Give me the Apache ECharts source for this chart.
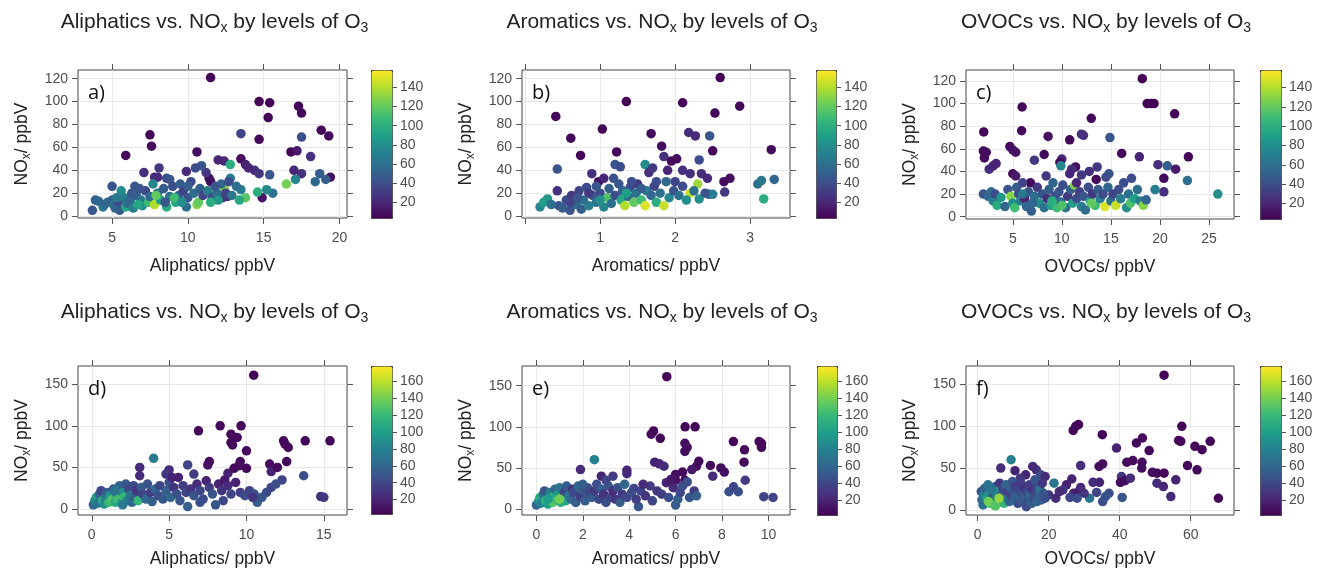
<!DOCTYPE html>
<html>
<head>
<meta charset="utf-8">
<script src="https://cdn.jsdelivr.net/npm/echarts@6/dist/echarts.min.js"></script>
<style>html,body{margin:0;padding:0;background:#fff}#main{width:1319px;height:569px}</style>
</head>
<body>
<div id="main"></div>
<script>
// each point: [VOC ppbV, NOx ppbV, O3 ppbV]
var pointsA = [[11.5,121,5],[14.7,100,5],[15.4,99,5],[15.3,86,5],[17.3,96,6],[17.5,90,6],[18.8,75,6],[19.3,70,8],[13.5,72,35],[17.5,69,42],[7.5,71,6],[7.6,61,8],[5.9,53,7],[14.7,67,6],[16.8,56,6],[17.2,57,15],[18.1,52,25],[10.6,56,10],[13.5,50,8],[12.4,48,22],[12.0,49,20],[13.8,45,18],[14.0,42,20],[14.4,40,22],[14.7,37,28],[15.4,36,45],[17.0,40,20],[17.5,37,25],[19.4,34,10],[19.1,32,50],[18.7,37,50],[18.4,30,55],[17.1,32,75],[16.5,28,125],[14.9,16,12],[15.6,20,62],[15.2,23,75],[14.6,21,100],[13.8,16,118],[13.5,23,70],[12.8,45,100],[12.8,33,70],[12.6,17,22],[12.3,16,28],[12.4,24,130],[11.5,30,8],[11.4,33,10],[11.2,38,30],[10.9,44,45],[10.5,42,40],[7.1,38,25],[7.8,34,25],[8.1,42,30],[8.0,34,22],[8.6,33,40],[8.8,32,45],[9.9,39,22],[6.5,26,45],[5.0,26,45],
  [3.7,5,45],[3.9,14,50],[4.1,13,55],[4.4,8,70],[4.7,12,60],[5.0,14,50],[5.1,10,60],[5.2,7,55],[5.4,12,40],[5.5,5,50],[5.6,22,80],[5.8,16,70],[5.9,8,95],[6.0,11,60],[6.2,14,55],[6.3,20,45],[6.4,7,70],[6.6,18,50],[6.8,24,45],[6.9,14,65],[7.0,9,80],[7.2,22,40],[7.4,12,110],[7.5,17,55],[7.7,28,75],[7.8,10,140],[8.0,20,60],[8.2,14,90],[8.4,24,50],[8.6,8,100],[8.8,17,60],[9.0,26,40],[9.2,12,95],[9.4,18,55],[9.5,28,50],[9.7,22,35],[9.9,8,60],[10.0,16,45],[10.2,30,40],[10.4,20,60],[10.6,10,130],[10.7,12,120],[10.8,24,50],[11.0,18,35],[11.3,22,70],[11.6,16,40],[11.9,20,60],[12.0,14,85],[12.2,28,55],[12.5,20,35],[12.9,18,65],[13.2,26,60],[13.4,14,95],[11.8,26,45],[9.1,16,110],[6.7,10,95],[5.3,16,65],[4.5,10,55],[7.9,18,120],[10.0,26,50],[12.7,30,40],[8.5,12,45],[9.6,12,80],[11.5,12,100]];

var pointsB = [[2.6,121,5],[1.35,100,5],[2.1,99,5],[2.86,96,6],[2.53,90,6],[0.41,87,6],[1.03,76,6],[1.68,72,8],[2.18,73,25],[2.27,70,22],[2.46,70,45],[0.61,68,6],[0.74,53,6],[1.22,56,8],[1.82,61,10],[3.28,58,8],[2.5,57,6],[0.43,41,45],[0.89,37,25],[0.98,30,10],[1.05,33,20],[1.85,52,25],[1.95,48,8],[2.02,50,8],[1.9,40,20],[2.1,40,25],[2.2,37,25],[2.32,49,40],[2.35,37,25],[2.43,33,22],[2.65,30,8],[2.73,33,10],[2.66,21,30],[3.1,28,60],[3.15,31,65],[3.32,32,55],[3.18,15,100],[2.3,28,135],[2.32,15,80],[2.45,19,45],[2.5,19,70],[2.2,20,145],[1.6,45,80],[1.65,38,25],[1.7,42,30],[1.2,45,45],[1.27,43,40],[0.43,22,25],[0.45,9,45],
  [0.2,8,75],[0.25,12,90],[0.3,15,85],[0.35,10,60],[0.5,7,50],[0.55,14,40],[0.6,5,45],[0.62,18,30],[0.68,10,55],[0.72,22,35],[0.75,6,50],[0.78,14,60],[0.82,25,40],[0.85,9,70],[0.9,18,45],[0.95,12,65],[1.0,20,40],[1.05,8,75],[1.1,16,115],[1.12,24,50],[1.15,11,60],[1.2,18,40],[1.25,28,45],[1.28,14,95],[1.3,22,50],[1.33,9,140],[1.38,17,55],[1.4,25,40],[1.45,12,120],[1.48,20,60],[1.5,28,30],[1.55,14,110],[1.6,9,150],[1.62,22,70],[1.68,18,55],[1.72,26,35],[1.75,12,100],[1.8,20,60],[1.85,9,145],[1.88,30,55],[1.92,16,75],[1.98,22,45],[2.05,18,60],[2.1,26,40],[2.15,14,80],[2.25,22,60],[2.4,20,45],[0.95,26,45],[1.18,33,45],[1.35,20,90],[1.42,30,40],[0.6,12,35],[0.7,16,45],[1.0,14,80],[1.75,30,40],[2.0,30,35],[1.55,24,50],[0.85,20,30]];

var pointsC = [[18.2,122,5],[18.7,100,5],[19.1,100,6],[19.4,100,5],[21.5,91,6],[13.0,87,6],[5.95,97,6],[5.9,76,6],[2.04,75,6],[8.6,71,10],[10.8,68,6],[12.0,73,25],[12.2,72,25],[14.9,70,45],[2.0,58,8],[2.3,57,10],[2.1,52,8],[4.7,62,8],[5.0,59,10],[5.3,57,12],[8.2,55,8],[10.0,51,20],[9.8,48,8],[16.1,56,6],[17.9,53,20],[22.9,53,6],[20.75,45,50],[21.6,42,15],[20.4,34,6],[22.8,32,60],[25.9,20,80],[20.4,22,25],[19.5,24,70],[19.8,46,25],[2.6,42,25],[3.0,45,20],[3.3,47,20],[7.2,50,30],[13.6,44,30],[13.5,33,8],[14.8,38,45],[14.5,35,40],[11.4,44,10],[11.0,42,25],[10.8,38,20],[12.0,37,30],[12.8,40,25],[8.4,36,30],[6.8,30,8],[5.0,38,8],[5.3,36,15],[9.9,45,75],
  [2.0,20,45],[2.5,18,55],[2.8,22,60],[3.0,14,70],[3.2,20,40],[3.4,10,100],[3.8,17,85],[4.2,9,55],[4.5,24,45],[4.8,18,130],[5.0,12,80],[5.2,8,110],[5.4,26,50],[5.6,20,40],[5.8,14,70],[6.0,30,35],[6.2,16,20],[6.4,9,55],[6.6,22,45],[6.9,5,50],[7.2,18,60],[7.5,26,30],[7.7,12,80],[8.0,20,45],[8.2,8,60],[8.5,16,25],[8.7,24,50],[8.9,10,90],[9.1,30,55],[9.3,18,40],[9.5,8,110],[9.7,22,45],[9.9,13,60],[10.1,28,40],[10.4,8,60],[10.6,18,30],[10.9,24,50],[11.1,12,90],[11.3,28,130],[11.5,16,40],[11.8,22,35],[12.0,9,70],[12.2,18,45],[12.4,6,60],[12.7,26,40],[12.9,14,85],[13.1,20,30],[13.4,10,110],[13.7,24,50],[13.9,16,70],[14.2,20,40],[14.4,9,150],[14.7,26,55],[15.0,14,60],[15.2,20,35],[15.5,10,145],[15.8,24,40],[16.0,16,70],[16.3,30,40],[16.6,8,80],[16.8,20,60],[17.1,34,40],[17.0,12,115],[17.4,16,90],[17.7,24,60],[18.0,14,70],[18.3,10,130],[18.6,15,55],[11.5,30,20],[7.0,12,55],[9.0,14,100],[13.0,12,120],[10.0,10,115],[6.0,20,65]];

var pointsD = [[10.47,161,5],[6.9,94,5],[8.3,100,6],[9.65,100,6],[9.0,90,6],[9.4,86,8],[9.0,80,8],[9.1,77,6],[10.0,70,6],[12.4,82,6],[12.5,78,6],[12.7,74,6],[13.8,82,5],[15.4,82,5],[13.7,40,45],[14.8,15,30],[15.0,14,30],[4.0,61,75],[3.1,50,25],[3.1,40,25],[7.6,57,8],[7.5,53,10],[9.6,57,8],[9.5,52,10],[8.8,43,20],[9.2,49,8],[10.0,49,6],[11.5,54,8],[11.6,45,20],[12.0,50,8],[12.6,57,6],[12.3,35,40],[6.2,53,40],[5.0,47,25],[5.6,38,20],[4.8,42,30],[6.6,42,35],
  [0.1,5,60],[0.2,10,80],[0.3,14,100],[0.4,7,70],[0.5,18,55],[0.6,22,40],[0.7,10,110],[0.8,6,90],[0.9,14,75],[1.0,20,60],[1.1,8,120],[1.2,16,95],[1.3,11,130],[1.4,24,50],[1.5,8,110],[1.6,18,85],[1.7,12,125],[1.8,28,60],[1.9,7,100],[2.0,20,90],[2.1,14,120],[2.2,30,50],[2.3,10,80],[2.4,24,40],[2.5,17,70],[2.6,8,60],[2.7,28,45],[2.8,14,55],[2.9,22,30],[3.0,10,120],[3.2,26,55],[3.3,18,40],[3.5,12,60],[3.6,30,50],[3.8,20,35],[3.9,9,55],[4.1,24,60],[4.3,16,45],[4.4,28,40],[4.6,12,50],[4.8,22,55],[5.0,32,45],[5.1,14,60],[5.3,26,30],[5.5,18,45],[5.7,10,50],[5.9,28,35],[6.1,20,40],[6.2,3,55],[6.4,24,30],[6.6,16,50],[6.8,30,25],[7.0,22,40],[7.2,12,45],[7.4,34,20],[7.6,26,35],[7.8,18,50],[8.0,5,50],[8.2,30,20],[8.4,22,30],[8.6,35,15],[8.8,28,25],[9.0,18,40],[9.3,32,20],[9.6,20,35],[9.9,16,45],[10.2,22,40],[10.5,18,45],[10.7,8,55],[11.0,14,50],[11.3,20,45],[11.6,26,40],[11.9,30,45],[10.4,14,30],[8.5,10,40],[7.0,8,45],[1.5,22,70],[2.0,5,75],[5.2,38,20]];

var pointsE = [[5.62,161,5],[4.95,91,5],[5.05,95,6],[5.34,86,5],[6.41,100,6],[6.84,100,6],[6.4,80,10],[6.5,75,12],[6.4,70,8],[8.49,82,5],[9.6,82,6],[9.7,80,6],[9.7,75,6],[8.97,72,6],[8.95,57,6],[9.0,35,35],[9.8,15,40],[10.2,14,40],[8.3,21,45],[8.5,27,40],[8.7,21,45],[7.5,53,8],[7.6,40,25],[7.95,50,8],[8.1,45,10],[7.0,58,8],[6.9,52,8],[6.7,48,15],[6.3,45,8],[6.4,35,8],[5.1,57,20],[5.3,55,22],[5.5,52,25],[2.5,60,80],[1.9,48,25],[2.8,40,20],[3.3,40,35],[3.9,47,20],[3.9,43,25],[6.5,33,45],[6.0,35,10],[4.4,3,50],[6.0,5,55],
  [0.0,5,60],[0.1,10,90],[0.15,14,110],[0.2,7,80],[0.3,18,70],[0.35,22,50],[0.4,10,120],[0.5,6,100],[0.55,14,90],[0.6,20,80],[0.7,8,130],[0.75,16,110],[0.8,24,60],[0.9,11,125],[0.95,18,100],[1.0,26,70],[1.05,8,115],[1.1,14,130],[1.2,20,40],[1.25,10,105],[1.3,28,55],[1.4,16,75],[1.5,12,60],[1.55,24,30],[1.6,20,45],[1.7,8,55],[1.8,28,60],[1.9,15,35],[2.0,22,50],[2.1,10,55],[2.2,26,45],[2.3,18,40],[2.4,14,55],[2.5,22,35],[2.6,30,45],[2.7,12,40],[2.8,24,55],[2.9,18,30],[3.0,8,45],[3.1,28,50],[3.2,14,40],[3.3,22,25],[3.4,12,30],[3.5,26,45],[3.6,8,55],[3.7,18,35],[3.8,30,60],[3.9,14,40],[4.1,20,45],[4.3,12,35],[4.5,22,40],[4.7,16,30],[4.9,28,35],[5.0,10,40],[5.2,22,30],[5.4,18,35],[5.6,32,20],[5.7,14,45],[5.9,26,25],[6.1,12,55],[6.2,20,40],[6.3,28,45],[6.6,14,50],[6.8,22,35],[6.9,16,55],[6.0,42,10],[5.8,36,15],[4.6,30,25],[4.2,25,40],[3.0,35,40],[2.0,30,55],[1.0,12,140],[0.5,12,100]];

var pointsF = [[52.5,161,5],[26.9,95,5],[27.6,100,6],[28.4,102,5],[35.1,90,5],[39.1,74,20],[44.7,80,6],[46.4,86,6],[48.3,71,6],[57.5,100,5],[56.6,83,6],[57.2,82,6],[61.2,76,6],[63.2,72,6],[65.5,82,5],[59.1,53,6],[61.8,48,6],[42.0,57,8],[43.7,59,8],[46.3,57,8],[46.2,50,10],[49.2,45,10],[50.5,44,8],[52.5,44,6],[50.5,32,25],[52.3,28,22],[55.8,36,20],[54.4,16,25],[67.8,14,6],[29.0,53,25],[34.2,52,8],[35.2,55,8],[40.5,40,30],[40.2,33,8],[41.5,35,10],[43.0,38,25],[37.0,20,45],[36.0,16,50],[35.2,10,45],[40.7,15,50],[31.5,14,70],[34.3,33,20],[32.5,33,25],[33.5,21,40],[21.5,32,70],[26.5,37,20],[25.0,30,20],[24.0,24,30],[23.0,22,25],[27.0,20,20],[28.5,22,15],[26.0,15,40],[28.0,14,45],[30.0,20,30],[29.0,27,25],[20.0,18,30],[22.0,14,25],[9.4,60,80],[6.5,50,25],[10.5,47,20],[15.5,52,25],[16.5,48,25],[17.8,42,45],[19.0,40,25],[13.5,42,20],[12.0,38,30],
  [1.0,22,50],[1.2,12,60],[1.5,6,70],[1.8,18,80],[2.0,26,55],[2.3,9,65],[2.6,14,100],[2.9,30,70],[3.2,20,90],[3.5,8,120],[3.8,24,60],[4.1,12,110],[4.4,18,45],[4.7,6,130],[5.0,28,55],[5.3,15,80],[5.6,22,100],[5.9,9,115],[6.2,32,30],[6.5,18,60],[6.8,12,100],[7.1,26,40],[7.4,8,120],[7.7,20,45],[8.0,30,60],[8.3,14,70],[8.6,22,35],[8.9,10,60],[9.2,26,55],[9.5,16,40],[9.8,34,50],[10.1,20,45],[10.4,12,60],[10.7,28,35],[11.0,18,55],[11.3,8,45],[11.6,24,40],[11.9,14,55],[12.2,32,35],[12.5,20,45],[12.8,10,50],[13.1,26,30],[13.4,16,55],[13.7,4,45],[14.0,22,40],[14.3,12,50],[14.6,30,35],[14.9,18,60],[15.2,8,55],[15.5,24,30],[15.8,14,45],[16.1,36,50],[16.4,20,40],[16.7,10,60],[17.0,28,45],[17.3,16,55],[17.6,24,70],[17.9,12,55],[18.2,32,30],[18.5,20,50],[19.0,14,45],[3.0,10,140],[5.0,5,130],[6.0,14,150],[4.0,24,75]];

// tick values
var ticksNoxTop = [0, 20, 40, 60, 80, 100, 120];
var ticksNoxBottom = [0, 50, 100, 150];
var ticksO3Top = [20, 40, 60, 80, 100, 120, 140];
var ticksO3Bottom = [20, 40, 60, 80, 100, 120, 140, 160];
var ticksAliA = [5, 10, 15, 20];
var ticksAroB = [0, 1, 2, 3];
var labelsAroB = [1, 2, 3];
var ticksOvocC = [5, 10, 15, 20, 25];
var ticksAliD = [0, 5, 10, 15];
var ticksAroE = [0, 2, 4, 6, 8, 10];
var ticksOvocF = [0, 20, 40, 60];

var viridis = ['#440154','#482878','#3e4989','#31688e','#26828e','#1f9e89','#35b779','#6ece58','#b5de2b','#fde725'];
var FONT = 'Liberation Sans, Arial, sans-serif';

var panels = [
  {tag:'a)', voc:'Aliphatics', data:pointsA, box:[78,70,269,148], xr:[2.75,20.5], xt:ticksAliA, xl:ticksAliA, yr:[-1.7,127.6], yt:ticksNoxTop, cb:[371,70,21,148], cr:[4,158], ct:ticksO3Top, ty:5, nameGapX:39, mx:13},
  {tag:'b)', voc:'Aromatics', data:pointsB, box:[522,70,268,148], xr:[-0.04,3.53], xt:ticksAroB, xl:labelsAroB, yr:[-1.7,127.6], yt:ticksNoxTop, cb:[816,70,20,148], cr:[4,158], ct:ticksO3Top, ty:5, nameGapX:39, mx:13},
  {tag:'c)', voc:'OVOCs', data:pointsC, box:[966,70,268,149], xr:[0.23,27.55], xt:ticksOvocC, xl:ticksOvocC, yr:[-2,129.7], yt:ticksNoxTop, cb:[1260,70,21,149], cr:[4,158], ct:ticksO3Top, ty:5, nameGapX:39, mx:13},
  {tag:'d)', voc:'Aliphatics', data:pointsD, box:[78,366,269,149], xr:[-0.89,16.5], xt:ticksAliD, xl:ticksAliD, yr:[-7.2,172], yt:ticksNoxBottom, cb:[371,366,21,148], cr:[3,178], ct:ticksO3Bottom, ty:295, nameGapX:35, mx:13},
  {tag:'e)', voc:'Aromatics', data:pointsE, box:[522,366,268,149], xr:[-0.62,10.93], xt:ticksAroE, xl:ticksAroE, yr:[-7.3,174], yt:ticksNoxBottom, cb:[817,366,20,149], cr:[3,178], ct:ticksO3Bottom, ty:295, nameGapX:35, mx:13},
  {tag:'f)', voc:'OVOCs', data:pointsF, box:[966,366,268,149], xr:[-3.3,72.2], xt:ticksOvocF, xl:ticksOvocF, yr:[-6,172], yt:ticksNoxBottom, cb:[1260,366,21,149], cr:[3,178], ct:ticksO3Bottom, ty:295, nameGapX:35, mx:13}
];

var subRich = {s:{fontSize:12, fontFamily:FONT, color:'#222', padding:[9,0,0,0]}};

function axis(grid, pos, range, ticks, labels, main, margin){
  return {
    type:'value', gridIndex:grid, position:pos, min:range[0], max:range[1],
    axisLine:{show:false, onZero:false},
    axisTick:{show:true, inside:false, length:6, customValues:ticks, lineStyle:{color:'#555'}},
    axisLabel:{show:main, customValues:labels, color:'#4d4d4d', fontSize:14, fontFamily:FONT, margin:margin},
    splitLine:{show:main, lineStyle:{color:'#e8e8e8'}}
  };
}

var option = {
  animation:false,
  backgroundColor:'#fff',
  textStyle:{fontFamily:FONT},
  title:[], grid:[], xAxis:[], yAxis:[], series:[], visualMap:[]
};

panels.forEach(function(p, i){
  var g = 2 * i;
  option.grid.push({left:p.box[0], top:p.box[1], width:p.box[2], height:p.box[3],
    show:true, borderColor:'#444', borderWidth:1, backgroundColor:'#fff'});
  option.grid.push({left:p.cb[0], top:p.cb[1], width:p.cb[2], height:p.cb[3], show:false});

  var xb = axis(g, 'bottom', p.xr, p.xt, p.xl, true, p.mx);
  xb.name = p.voc + '/ ppbV';
  xb.nameLocation = 'middle';
  xb.nameGap = p.nameGapX;
  xb.nameTextStyle = {fontSize:17.5, color:'#222', fontFamily:FONT};
  option.xAxis.push(xb);
  option.xAxis.push(axis(g, 'top', p.xr, p.xt, [], false, 0));
  option.xAxis.push({type:'value', gridIndex:g + 1, show:false, min:0, max:1});

  var yl = axis(g, 'left', p.yr, p.yt, p.yt, true, 10);
  yl.name = 'NO{s|x}/ ppbV';
  yl.nameLocation = 'middle';
  yl.nameGap = 45;
  yl.nameTextStyle = {fontSize:17.5, color:'#222', fontFamily:FONT, rich:subRich};
  option.yAxis.push(yl);
  option.yAxis.push(axis(g, 'right', p.yr, p.yt, [], false, 0));
  option.yAxis.push({type:'value', gridIndex:g + 1, position:'right', min:p.cr[0], max:p.cr[1],
    axisLine:{show:false, onZero:false},
    axisTick:{show:true, length:5, customValues:p.ct, lineStyle:{color:'#555'}},
    axisLabel:{customValues:p.ct, color:'#4d4d4d', fontSize:14, fontFamily:FONT, margin:8},
    splitLine:{show:false}});

  option.series.push({type:'scatter', xAxisIndex:3 * i, yAxisIndex:3 * i, data:p.data,
    symbolSize:9.5, itemStyle:{opacity:1}});

  option.visualMap.push({type:'continuous', seriesIndex:i, dimension:2, min:p.cr[0], max:p.cr[1],
    calculable:false, hoverLink:false, left:p.cb[0], top:p.cb[1], itemWidth:p.cb[2], itemHeight:p.cb[3],
    padding:0, inRange:{color:viridis}, borderColor:'#333', borderWidth:1});

  option.title.push({text:'{t|' + p.voc + ' vs. NO}{s|x}{t| by levels of O}{s|3}',
    left:p.box[0] + p.box[2] / 2 - 1 + (i % 3 === 0 ? -2 : 2), top:p.ty, textAlign:'center',
    textStyle:{fontWeight:'normal', rich:{
      t:{fontSize:21, fontWeight:'normal', fontFamily:FONT, color:'#222'},
      s:{fontSize:14, fontWeight:'normal', fontFamily:FONT, color:'#222', padding:[11,0,0,0]}}}});
  option.title.push({text:p.tag, left:p.box[0] + 5, top:p.box[1] + 8,
    textStyle:{fontSize:20, fontWeight:'normal', color:'#111', fontFamily:'Open Sans, sans-serif'}});
});

var myChart = echarts.init(document.getElementById('main'), null, {renderer:'canvas'});
myChart.setOption(option);
</script>
</body>
</html>
